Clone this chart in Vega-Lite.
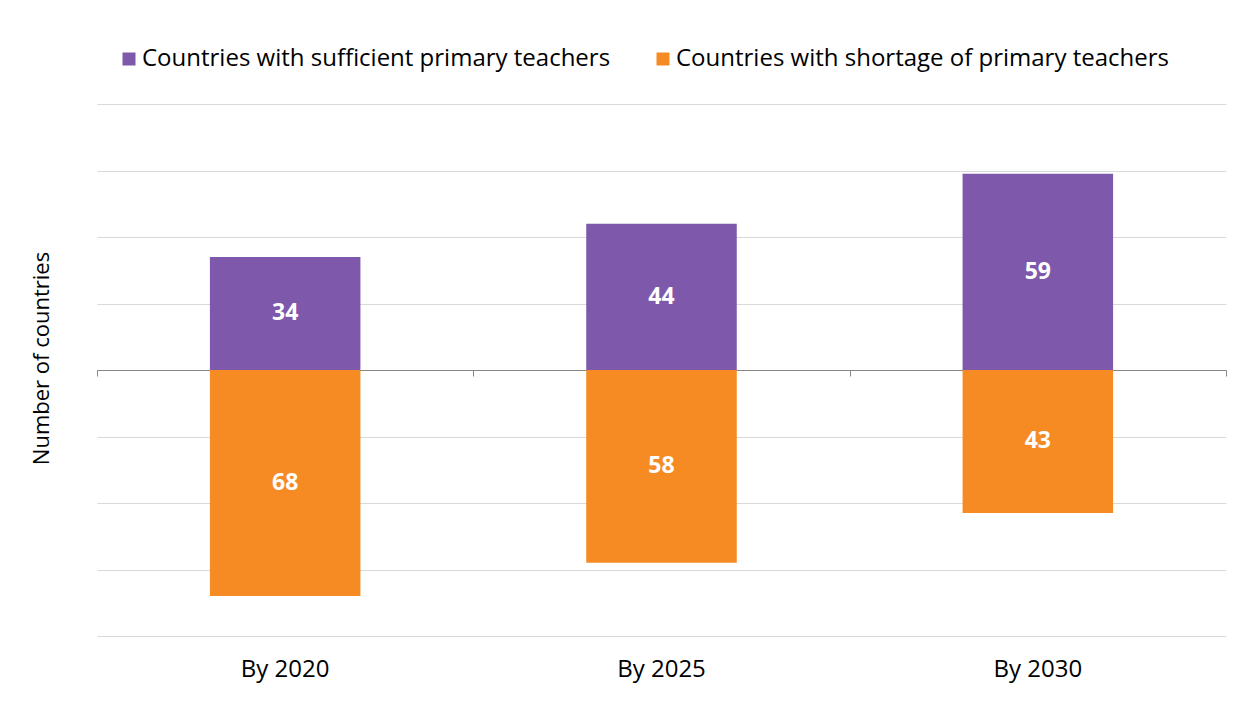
{
  "$schema": "https://vega.github.io/schema/vega-lite/v6.json",
  "width": 1129,
  "height": 532,
  "autosize": {"type": "none"},
  "padding": {"left": 97, "top": 104, "right": 30, "bottom": 70},
  "background": "white",
  "config": {"view": {"stroke": null}, "font": "Open Sans"},
  "data": {
    "values": [
      {"period": "By 2020", "group": "Countries with sufficient primary teachers", "value": 34},
      {"period": "By 2020", "group": "Countries with shortage of primary teachers", "value": -68},
      {"period": "By 2025", "group": "Countries with sufficient primary teachers", "value": 44},
      {"period": "By 2025", "group": "Countries with shortage of primary teachers", "value": -58},
      {"period": "By 2030", "group": "Countries with sufficient primary teachers", "value": 59},
      {"period": "By 2030", "group": "Countries with shortage of primary teachers", "value": -43}
    ]
  },
  "transform": [
    {"calculate": "abs(datum.value)", "as": "label"},
    {"calculate": "datum.value / 2", "as": "mid"}
  ],
  "layer": [
    {
      "mark": {"type": "bar", "width": {"band": 0.4}},
      "encoding": {
        "x": {
          "field": "period", "type": "nominal", "sort": null,
          "scale": {"paddingInner": 0, "paddingOuter": 0},
          "axis": {"title": null, "labelAngle": 0, "domain": false, "ticks": false, "labelFontSize": 24, "labelPadding": 21, "labelDx": -7, "labelColor": "#000000", "grid": false}
        },
        "y": {
          "field": "value", "type": "quantitative", "title": "Number of countries",
          "scale": {"domain": [-80, 80], "nice": false},
          "axis": {"values": [-80, -60, -40, -20, 0, 20, 40, 60, 80], "labels": false, "ticks": false, "domain": false, "gridColor": "#d9d9d9", "gridWidth": 1, "titleFontSize": 22, "titleFontWeight": "normal", "titleColor": "#000000", "titlePadding": 44, "titleY": 254}
        },
        "color": {
          "field": "group", "type": "nominal",
          "scale": {"domain": ["Countries with sufficient primary teachers", "Countries with shortage of primary teachers"], "range": ["#7E59AB", "#F68B24"]},
          "legend": {"orient": "none", "legendX": 20, "legendY": -57, "direction": "horizontal", "title": null, "labelFontSize": 24, "labelColor": "#000000", "symbolType": "square", "symbolSize": 169, "symbolStrokeWidth": 0, "columnPadding": 40, "labelLimit": 700, "labelOffset": 1}
        }
      }
    },
    {
      "mark": {"type": "text", "fontWeight": "bold", "fontSize": 23, "color": "white"},
      "encoding": {
        "x": {"field": "period", "type": "nominal", "sort": null, "axis": null},
        "y": {"field": "mid", "type": "quantitative", "title": "Number of countries"},
        "text": {"field": "label", "type": "quantitative"}
      }
    },
    {
      "mark": {"type": "point", "opacity": 0},
      "encoding": {
        "x": {
          "field": "period", "type": "nominal", "sort": null,
          "axis": {"orient": "bottom", "offset": -266, "labels": false, "title": null, "ticks": true, "tickBand": "extent", "tickSize": 6, "tickColor": "#868686", "domainColor": "#868686", "domainWidth": 1, "grid": false}
        },
        "y": {"datum": 0, "type": "quantitative", "title": "Number of countries"}
      }
    }
  ],
  "resolve": {"axis": {"x": "independent"}}
}
